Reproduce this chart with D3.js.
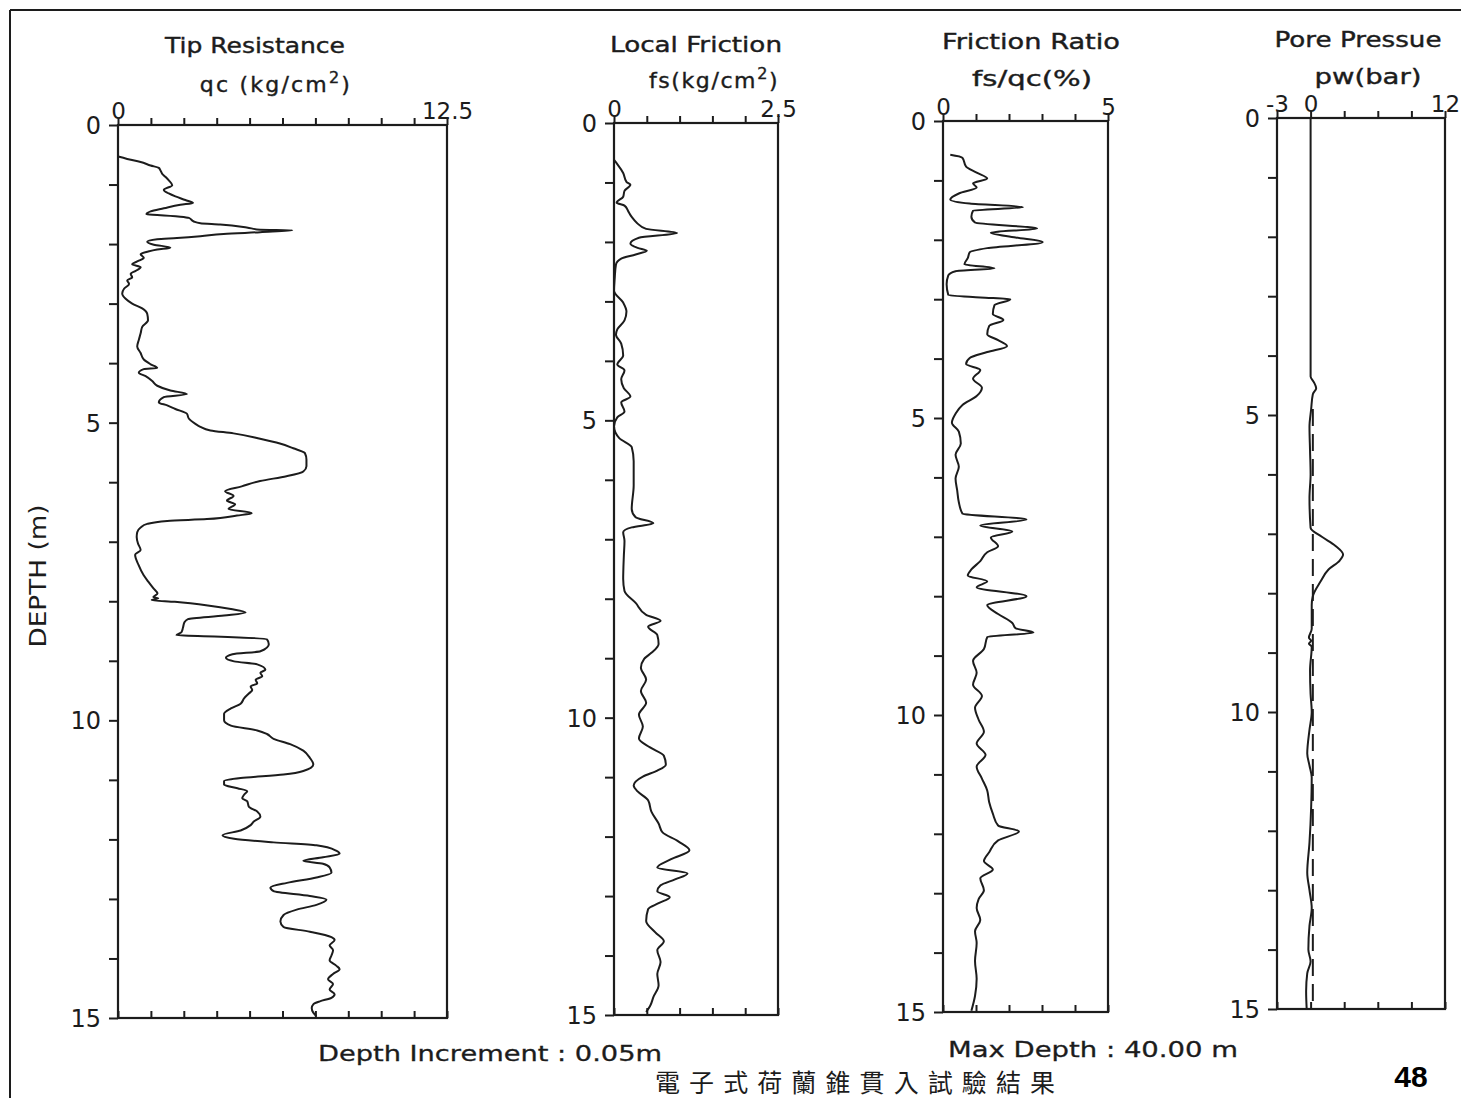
<!DOCTYPE html>
<html><head><meta charset="utf-8">
<script src="https://cdn.jsdelivr.net/npm/d3@7"></script>
<style>body{margin:0;background:#fff;} svg{display:block;}</style>
</head><body>
<svg id="c" width="1461" height="1098"></svg>
<script>
// ---------- DATA ----------
const depthTicks = [0,1,2,3,4,5,6,7,8,9,10,11,12,13,14,15];
const depthLabels = [0,5,10,15];

const qcDomain = [0,12.5];
const qcTicks = [0,1.25,2.5,3.75,5,6.25,7.5,8.75,10,11.25,12.5];
const qcTopLabels = [0,12.5];
const qcDepth = [0.53,0.57,0.62,0.68,0.72,0.76,0.82,0.87,0.93,1.01,1.09,1.15,1.20,1.26,1.31,1.34,1.40,1.45,1.50,1.51,1.54,1.56,1.62,1.65,1.67,1.72,1.76,1.77,1.80,1.83,1.87,1.90,1.92,1.96,2.01,2.06,2.09,2.13,2.17,2.23,2.28,2.34,2.39,2.45,2.50,2.56,2.61,2.67,2.75,2.83,2.92,3.00,3.08,3.17,3.28,3.39,3.50,3.61,3.72,3.83,3.94,4.02,4.08,4.10,4.16,4.22,4.30,4.38,4.46,4.52,4.57,4.66,4.71,4.77,4.85,4.93,5.02,5.07,5.13,5.18,5.27,5.35,5.43,5.51,5.62,5.73,5.82,5.90,5.98,6.07,6.15,6.23,6.31,6.37,6.45,6.52,6.56,6.62,6.65,6.70,6.76,6.84,6.92,7.03,7.14,7.22,7.39,7.56,7.67,7.78,7.87,7.93,7.95,7.98,8.01,8.07,8.13,8.19,8.24,8.30,8.35,8.44,8.52,8.57,8.59,8.64,8.72,8.84,8.89,8.95,9.01,9.06,9.15,9.20,9.26,9.32,9.38,9.43,9.49,9.55,9.63,9.72,9.80,9.89,10.00,10.09,10.17,10.23,10.31,10.40,10.51,10.63,10.74,10.85,10.91,10.97,11.02,11.08,11.14,11.19,11.25,11.31,11.36,11.45,11.53,11.62,11.70,11.76,11.85,11.93,11.99,12.05,12.10,12.19,12.24,12.30,12.36,12.41,12.47,12.56,12.64,12.73,12.81,12.87,12.95,13.01,13.10,13.18,13.27,13.38,13.47,13.55,13.64,13.69,13.78,13.86,13.95,14.03,14.12,14.18,14.26,14.35,14.43,14.52,14.60,14.66,14.72,14.77,14.83,14.91,14.97];
const qcValue = [0,0.35,0.86,1.24,1.55,1.61,1.68,1.80,1.93,2.06,1.74,1.93,2.18,2.56,2.85,2.37,1.74,1.24,1.08,1.49,2.37,2.69,2.88,3.13,3.88,4.89,5.40,6.62,5.40,4.01,3.13,2.24,1.49,1.11,1.36,1.99,1.49,1.11,0.86,0.98,0.79,0.54,0.86,0.67,0.48,0.54,0.35,0.42,0.23,0.16,0.29,0.54,0.92,1.11,1.14,0.92,0.86,0.79,0.73,0.86,0.98,1.24,1.49,0.98,0.79,1.05,1.30,1.49,1.99,2.62,1.74,1.55,1.87,2.18,2.62,2.69,2.94,3.13,3.51,4.39,5.40,6.15,6.66,7.10,7.16,7.16,7.04,6.40,5.40,4.70,4.07,4.39,4.14,4.45,4.20,5.08,4.52,3.38,1.87,1.11,0.86,0.73,0.71,0.76,0.86,0.65,0.78,0.97,1.15,1.34,1.50,1.34,1.53,1.28,2.16,3.41,4.29,4.85,4.03,2.66,2.53,2.47,2.41,2.22,3.66,5.66,5.73,5.41,4.35,4.10,4.41,5.29,5.60,5.41,5.48,5.23,5.29,5.04,5.10,4.97,4.79,4.66,4.29,4.03,4.03,4.29,5.29,5.66,5.91,6.54,7.04,7.29,7.42,7.04,6.29,4.66,4.03,4.03,4.54,4.91,4.79,4.72,4.91,4.97,5.29,5.41,5.16,5.04,4.66,3.97,4.41,5.91,7.54,8.29,8.42,7.79,7.04,7.79,8.04,8.11,7.54,6.42,5.79,5.91,7.29,7.92,7.54,6.79,6.29,6.17,6.29,7.29,8.11,8.23,8.04,8.17,8.11,8.04,8.29,8.42,8.17,7.98,8.17,8.04,8.23,8.11,7.67,7.42,7.36,7.42,7.54];

const fsDomain = [0,2.5];
const fsTicks = [0,0.5,1,1.5,2,2.5];
const fsTopLabels = [0,2.5];
const fsDepth = [0.62,0.69,0.84,0.99,1.04,1.14,1.24,1.34,1.39,1.49,1.58,1.68,1.78,1.85,1.93,2.03,2.10,2.15,2.21,2.28,2.38,2.62,2.82,3.02,3.17,3.32,3.47,3.56,3.71,3.91,4.06,4.16,4.31,4.46,4.60,4.70,4.85,4.95,5.10,5.30,5.45,5.69,6.09,6.49,6.63,6.73,6.80,6.88,7.03,7.28,7.67,7.87,8.07,8.27,8.37,8.47,8.61,8.76,8.91,9.01,9.16,9.36,9.55,9.75,9.95,10.15,10.35,10.50,10.64,10.79,10.89,10.99,11.14,11.24,11.39,11.58,11.78,11.93,12.08,12.23,12.38,12.52,12.62,12.72,12.82,12.92,13.02,13.12,13.22,13.42,13.61,13.76,13.91,14.11,14.31,14.50,14.70,14.85,14.95];
const fsValue = [0,0.05,0.14,0.19,0.25,0.16,0.14,0.04,0.16,0.22,0.27,0.35,0.49,0.96,0.38,0.25,0.36,0.50,0.33,0.11,0.03,0.01,0,0.14,0.19,0.16,0.05,0.03,0.11,0.14,0.05,0.16,0.11,0.15,0.25,0.11,0.16,0.05,0,0.08,0.27,0.30,0.30,0.27,0.33,0.60,0.27,0.14,0.16,0.15,0.14,0.16,0.33,0.49,0.71,0.52,0.66,0.68,0.57,0.46,0.41,0.49,0.41,0.49,0.38,0.44,0.38,0.55,0.76,0.79,0.66,0.44,0.30,0.36,0.52,0.57,0.68,0.74,0.98,1.15,0.87,0.66,1.12,0.93,0.71,0.66,0.85,0.68,0.52,0.49,0.63,0.76,0.66,0.71,0.66,0.68,0.60,0.55,0.49];

const frDomain = [0,5];
const frTicks = [0,1,2,3,4,5];
const frTopLabels = [0,5];
const frDepth = [0.57,0.62,0.77,0.87,0.97,1.05,1.12,1.22,1.32,1.39,1.45,1.51,1.61,1.71,1.81,1.88,1.96,2.04,2.14,2.21,2.31,2.41,2.48,2.53,2.60,2.75,2.93,2.97,3.00,3.10,3.25,3.35,3.45,3.59,3.69,3.79,3.89,3.99,4.09,4.19,4.34,4.49,4.63,4.78,4.93,5.08,5.23,5.43,5.62,5.82,6.02,6.22,6.42,6.61,6.71,6.81,6.91,7.01,7.16,7.26,7.41,7.55,7.65,7.75,7.85,8.00,8.15,8.30,8.45,8.54,8.61,8.69,8.89,9.09,9.29,9.49,9.68,9.88,10.08,10.28,10.48,10.67,10.87,11.07,11.27,11.47,11.66,11.86,11.96,12.11,12.31,12.46,12.60,12.75,12.95,13.10,13.25,13.45,13.64,13.84,14.14,14.44,14.73,14.98];
const frValue = [0.22,0.59,0.70,1.02,1.34,0.91,1.02,0.48,0.22,0.81,2.42,0.91,0.86,0.97,2.85,1.45,2.20,3.02,1.34,0.81,0.75,0.65,1.56,0.38,0.16,0.11,0.16,1.13,2.04,1.56,1.51,1.83,1.40,1.34,1.67,1.94,1.34,0.81,0.70,1.13,0.91,1.18,1.02,0.59,0.38,0.27,0.48,0.54,0.38,0.48,0.38,0.43,0.48,0.59,2.53,1.13,2.10,1.45,1.67,1.34,1.13,0.86,0.75,1.34,1.02,2.53,1.34,1.67,2.10,2.20,2.74,1.34,1.24,0.91,1.02,0.91,1.18,0.97,1.08,1.24,1.02,1.29,1.02,1.18,1.34,1.40,1.51,1.67,2.30,1.67,1.40,1.24,1.51,1.13,1.24,1.08,1.02,1.13,0.97,1.02,0.97,1.02,0.97,0.86];

const pwDomain = [-3,12];
const pwTicks = [-3,0,3,6,9,12];
const pwTopLabels = [-3,0,12];
const pwDepth = [0,4.35,4.45,4.55,4.65,4.9,5.2,5.6,6.0,6.4,6.9,7.05,7.2,7.35,7.45,7.6,7.8,8.05,8.2,8.6,8.75,8.8,8.85,8.9,9.3,9.7,10.0,10.3,10.7,10.9,11.1,11.6,12.2,12.7,13.0,13.3,13.6,14.0,14.2,14.4,14.7,15.0];
const pwValue = [0,0,0.3,0.5,0.2,0.05,-0.1,-0.05,0,-0.1,0,1.0,2.2,2.9,2.6,1.6,0.9,0.2,0.1,0.1,-0.15,0.05,-0.15,0.1,-0.05,0,0.1,-0.1,-0.3,-0.1,0.1,0.05,-0.1,-0.3,-0.1,0.1,-0.1,-0.2,0,-0.3,-0.4,-0.35];
const hydroDepth = [4.9,15];
const hydroValue = [0.2,0.2];

// ---------- DRAW ----------
const svg = d3.select("#c");
const ink = "#1c1c1c";
const font = "'DejaVu Sans', sans-serif";

svg.append("line").attr("x1",10).attr("y1",10).attr("x2",1461).attr("y2",10).attr("stroke",ink).attr("stroke-width",2);
svg.append("line").attr("x1",10).attr("y1",10).attr("x2",10).attr("y2",1098).attr("stroke",ink).attr("stroke-width",2);

const panels = [
  {x0:118,x1:447,y0:125,y1:1018,domain:qcDomain,ticks:qcTicks,labels:qcTopLabels,
   t1:"Tip Resistance",t1x:255,t1y:53,t1w:180,t2:["qc (kg/cm","2",")"],t2x:276,t2y:92,t2ls:2.2,
   series:[{d:qcDepth,v:qcValue}]},
  {x0:614,x1:778,y0:123,y1:1015,domain:fsDomain,ticks:fsTicks,labels:fsTopLabels,
   t1:"Local Friction",t1x:696,t1y:52,t1w:172,t2:["fs(kg/cm","2",")"],t2x:714,t2y:88,t2ls:1.6,
   series:[{d:fsDepth,v:fsValue}]},
  {x0:943,x1:1108,y0:121,y1:1012,domain:frDomain,ticks:frTicks,labels:frTopLabels,
   t1:"Friction Ratio",t1x:1031,t1y:49,t1w:178,t2:["fs/qc(%)"],t2x:1032,t2y:86,t2w:120,
   series:[{d:frDepth,v:frValue}]},
  {x0:1277,x1:1445,y0:118,y1:1009,domain:pwDomain,ticks:pwTicks,labels:pwTopLabels,
   t1:"Pore Pressue",t1x:1358,t1y:47,t1w:167,t2:["pw(bar)"],t2x:1368,t2y:84,t2w:107,
   series:[{d:pwDepth,v:pwValue},{d:hydroDepth,v:hydroValue,dash:"17,8"}]}
];

panels.forEach(p => {
  const x = d3.scaleLinear().domain(p.domain).range([p.x0,p.x1]);
  const y = d3.scaleLinear().domain([0,15]).range([p.y0,p.y1]);
  const g = svg.append("g");

  g.append("rect").attr("x",p.x0).attr("y",p.y0).attr("width",p.x1-p.x0).attr("height",p.y1-p.y0)
    .attr("fill","none").attr("stroke",ink).attr("stroke-width",2.2);

  const top = g.append("g").attr("transform",`translate(0,${p.y0})`)
    .call(d3.axisTop(x).tickValues(p.ticks).tickSize(7).tickSizeOuter(0).tickPadding(-1)
      .tickFormat(v => p.labels.includes(v) ? String(v) : ""));
  const bot = g.append("g").attr("transform",`translate(0,${p.y1})`)
    .call(d3.axisBottom(x).tickValues(p.ticks).tickSize(-7).tickSizeOuter(0).tickFormat(""));
  const left = g.append("g").attr("transform",`translate(${p.x0},0)`)
    .call(d3.axisLeft(y).tickValues(depthTicks).tickSize(9).tickSizeOuter(0).tickPadding(8)
      .tickFormat(v => depthLabels.includes(v) ? String(v) : ""));

  [top,bot,left].forEach(a => {
    a.select(".domain").remove();
    a.selectAll(".tick line").attr("stroke",ink).attr("stroke-width",2);
    a.selectAll("text").attr("fill",ink).style("font-family",font);
  });
  top.selectAll("text").style("font-size","23px");
  left.selectAll("text").style("font-size","24px").attr("dy","0.36em");

  const line = d3.line().x(d => x(d[1])).y(d => y(d[0])).curve(d3.curveMonotoneY);
  p.series.forEach(s => {
    const pts = s.d.map((dd,i) => [dd, s.v[i]]);
    g.append("path").datum(pts).attr("d",line).attr("fill","none")
      .attr("stroke",ink).attr("stroke-width",2).attr("stroke-linejoin","round")
      .attr("stroke-dasharray",s.dash || null);
  });

  g.append("text").attr("x",p.t1x).attr("y",p.t1y).attr("text-anchor","middle")
    .attr("textLength",p.t1w).attr("lengthAdjust","spacingAndGlyphs")
    .attr("stroke",ink).attr("stroke-width",0.4)
    .style("font-family",font).style("font-size","21px").attr("fill",ink).text(p.t1);
  const t2 = g.append("text").attr("x",p.t2x).attr("y",p.t2y).attr("text-anchor","middle")
    .attr("stroke",ink).attr("stroke-width",0.4)
    .style("font-family",font).style("font-size","22px").attr("fill",ink);
  if (p.t2.length === 3) {
    t2.style("letter-spacing",p.t2ls+"px");
    t2.append("tspan").text(p.t2[0]);
    t2.append("tspan").attr("dy",-9).style("font-size","16px").text(p.t2[1]);
    t2.append("tspan").attr("dy",9).text(p.t2[2]);
  } else {
    t2.attr("textLength",p.t2w).attr("lengthAdjust","spacingAndGlyphs").text(p.t2[0]);
  }
});

svg.append("text").attr("transform","translate(46,576) rotate(-90)").attr("text-anchor","middle")
  .attr("textLength",143).attr("lengthAdjust","spacingAndGlyphs")
  .style("font-family",font).style("font-size","23px").attr("fill",ink).text("DEPTH (m)");

svg.append("text").attr("x",318).attr("y",1061).attr("textLength",344).attr("lengthAdjust","spacingAndGlyphs")
  .attr("stroke",ink).attr("stroke-width",0.3)
  .style("font-family",font).style("font-size","21px").attr("fill",ink).text("Depth  Increment : 0.05m");
svg.append("text").attr("x",948).attr("y",1057).attr("textLength",290).attr("lengthAdjust","spacingAndGlyphs")
  .attr("stroke",ink).attr("stroke-width",0.3)
  .style("font-family",font).style("font-size","21px").attr("fill",ink).text("Max  Depth : 40.00 m");
svg.append("text").attr("x",655).attr("y",1092).attr("textLength",400).attr("lengthAdjust","spacing")
  .style("font-family","'Noto Sans CJK TC', sans-serif").style("font-size","25px").attr("fill",ink)
  .text("電子式荷蘭錐貫入試驗結果");
svg.append("text").attr("x",1411).attr("y",1087).attr("text-anchor","middle")
  .style("font-family","'Liberation Sans', Arial, sans-serif").style("font-size","30px").style("font-weight","bold")
  .attr("fill","#000").text("48");
</script>
</body></html>
